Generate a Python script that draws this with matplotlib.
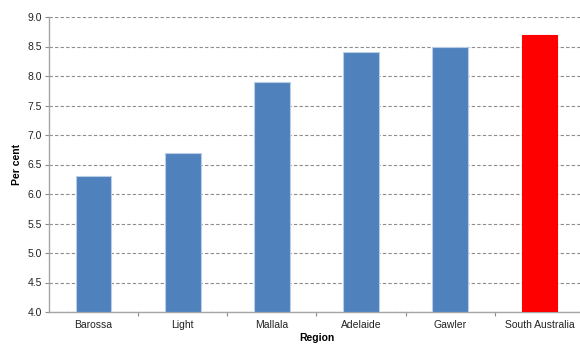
import matplotlib
matplotlib.use("Agg")
import matplotlib.pyplot as plt
import numpy as np

regions = ["Barossa", "Light", "Mallala", "Adelaide", "Gawler", "South Australia"]
values = [6.3, 6.7, 7.9, 8.4, 8.5, 8.7]
colors = ["#4F81BD"] * 5 + ["#FF0000"]
edge_colors = ["#B9CDE5"] * 5 + ["#FF0000"]
y_ticks = [4.0, 4.5, 5.0, 5.5, 6.0, 6.5, 7.0, 7.5, 8.0, 8.5, 9.0]

plt.rcParams["font.family"] = ["Liberation Sans", "DejaVu Sans"]

fig = plt.figure(figsize=(5.8, 3.47), dpi=100)
ax = fig.add_axes([49 / 580, 35 / 347, 535 / 580, 295 / 347])

x = np.arange(len(regions))
ax.bar(x, [v - 4.0 for v in values], bottom=4.0, width=0.4,
       color=colors, edgecolor=edge_colors, linewidth=0.8, zorder=3)

ax.set_xlim(-0.5, len(regions) - 0.5)
ax.set_ylim(4.0, 9.0)
ax.set_yticks(y_ticks)
ax.set_yticklabels([f"{t:.1f}" for t in y_ticks], fontsize=7.5, color="#222222")
ax.yaxis.grid(True, linestyle=(0, (3, 2)), color="#8C8C8C", linewidth=0.8, zorder=0)

ax.set_xticks(x)
ax.set_xticklabels(regions, fontsize=7.5, color="#222222")
ax.tick_params(axis="x", which="major", length=0, pad=6)
ax.set_xticks(np.arange(0.5, len(regions) - 0.5, 1.0), minor=True)
ax.tick_params(axis="x", which="minor", length=3, color="#8C8C8C", width=0.8)
ax.tick_params(axis="y", length=3, color="#8C8C8C", width=0.8, pad=2)

for side in ["top", "right"]:
    ax.spines[side].set_visible(False)
for side in ["left", "bottom"]:
    ax.spines[side].set_color("#A6A6A6")
    ax.spines[side].set_linewidth(1.0)

ax.set_ylabel("Per cent", fontsize=7.5, fontweight="bold", labelpad=4)
ax.set_xlabel("Region", fontsize=7.5, fontweight="bold", labelpad=2)

fig.savefig("out.png", dpi=100)
